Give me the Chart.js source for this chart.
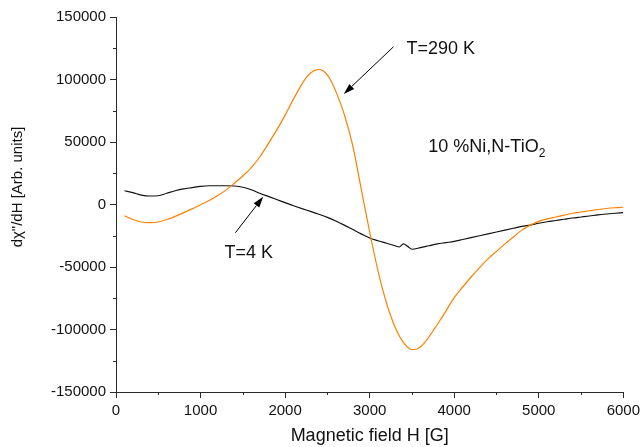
<!DOCTYPE html>
<html>
<head>
<meta charset="utf-8">
<script src="https://cdn.jsdelivr.net/npm/chart.js@4/dist/chart.umd.min.js"></script>
<style>
  html, body { margin: 0; padding: 0; background: #fff; }
  #wrap { width: 644px; height: 447px; }
</style>
</head>
<body>
<div id="wrap"><canvas id="c" width="644" height="447"></canvas></div>
<script>
// Magnetic field [G] and EPR derivative signal for 10 %Ni,N-TiO2
const fieldH290K = [100,200,300,400,500,600,700,800,900,1000,1100,1200,1300,1400,1500,1600,1700,1800,1900,2000,
  2100,2200,2250,2300,2350,2400,2450,2500,2550,2600,2700,2800,2900,3000,3100,3200,3300,3400,3500,3550,3600,3650,3700,3750,3800,3900,4000,
  4100,4200,4300,4400,4500,4600,4700,4800,4900,5000,5100,5200,5300,5400,5500,5600,5700,5800,5900,6000];
const signal290K = [-9000,-12000,-14000,-14500,-14000,-12000,-9500,-6500,-3500,-200,3200,7000,11500,17000,22800,29500,38000,48500,59500,71500,
  84500,96500,101500,105000,107300,108000,107000,103500,98000,90500,72000,47000,12500,-22000,-53500,-79000,-98000,-110500,-116000,-115800,-114000,-110500,-106000,-101000,-96000,-85500,-74500,
  -66000,-58000,-50500,-43500,-37500,-31500,-26000,-20500,-16500,-13500,-11500,-10000,-8500,-7000,-6000,-5000,-4000,-3200,-2600,-2200];

const fieldH4K = [100,200,300,400,500,600,700,800,900,1000,1100,1200,1300,1400,1500,1600,1700,1800,1900,2000,
  2100,2200,2300,2400,2500,2600,2700,2800,2900,3000,3100,3200,3300,3350,3400,3450,3500,3600,3700,3800,3900,4000,
  4100,4200,4300,4400,4500,4600,4700,4800,4900,5000,5100,5200,5300,5400,5500,5600,5700,5800,5900,6000];
const signal4K = [11000,9500,7500,6800,7000,9000,11000,12500,13500,14500,15000,15000,15000,14800,13800,11800,9000,6500,4000,1500,
  -1000,-3300,-5500,-7800,-10300,-13200,-16500,-20000,-23500,-26800,-29000,-31000,-33000,-34000,-31500,-33500,-35800,-34500,-33000,-31500,-30500,-29500,
  -28000,-26500,-25000,-23500,-22000,-20500,-19000,-17500,-16400,-15000,-13800,-12800,-11800,-10800,-10000,-9200,-8300,-7600,-7000,-6500];

const xTicks = [0,1000,2000,3000,4000,5000,6000];
const yTicks = [-150000,-100000,-50000,0,50000,100000,150000];

// Text notes and arrows, placed in data coordinates
const notes = [
  { text: 'T=290 K', h: 3435, v: 124200 },
  { text: 'T=4 K', h: 1282, v: -38800 },
  { text: '10 %Ni,N-TiO', sub: '2', h: 3694, v: 45600 }
];
const arrows = [
  { from: [3282, 126200], to: [2694, 88400] },
  { from: [1412, -22600], to: [1741, 6200] }
];
const yTitle = 'd\u03C7"/dH [Arb. units]';
const yTitleCentre = 14000;

const toPoints = (xs, ys) => xs.map((x, i) => ({ x: x, y: ys[i] }));

const FONT = '"Liberation Sans", Arial, sans-serif';
const AXIS = '#2a2a2a';

const decorations = {
  id: 'decorations',
  afterDraw(chart) {
    const ctx = chart.ctx;
    const xs = chart.scales.x, ys = chart.scales.y;
    ctx.save();
    // minor ticks half-way between labelled ticks
    ctx.strokeStyle = AXIS;
    ctx.lineWidth = 1;
    ctx.beginPath();
    for (let i = 0; i < xTicks.length - 1; i++) {
      const px = Math.round(xs.getPixelForValue((xTicks[i] + xTicks[i + 1]) / 2)) + 0.5;
      ctx.moveTo(px, ys.bottom);
      ctx.lineTo(px, ys.bottom + 3);
    }
    for (let i = 0; i < yTicks.length - 1; i++) {
      const py = Math.round(ys.getPixelForValue((yTicks[i] + yTicks[i + 1]) / 2)) + 0.5;
      ctx.moveTo(xs.left, py);
      ctx.lineTo(xs.left - 3, py);
    }
    ctx.stroke();

    // arrows
    ctx.strokeStyle = '#000';
    ctx.fillStyle = '#000';
    arrows.forEach(a => {
      const x1 = xs.getPixelForValue(a.from[0]), y1 = ys.getPixelForValue(a.from[1]);
      const x2 = xs.getPixelForValue(a.to[0]), y2 = ys.getPixelForValue(a.to[1]);
      const ang = Math.atan2(y2 - y1, x2 - x1);
      const len = 11, half = 3.5;
      const bx = x2 - len * Math.cos(ang), by = y2 - len * Math.sin(ang);
      ctx.beginPath();
      ctx.moveTo(x1, y1);
      ctx.lineTo(bx, by);
      ctx.stroke();
      ctx.beginPath();
      ctx.moveTo(x2, y2);
      ctx.lineTo(bx + half * Math.sin(ang), by - half * Math.cos(ang));
      ctx.lineTo(bx - half * Math.sin(ang), by + half * Math.cos(ang));
      ctx.closePath();
      ctx.fill();
    });

    // text notes
    ctx.fillStyle = '#111';
    ctx.textAlign = 'left';
    ctx.textBaseline = 'middle';
    notes.forEach(n => {
      const px = xs.getPixelForValue(n.h), py = ys.getPixelForValue(n.v);
      ctx.font = '18px ' + FONT;
      ctx.fillText(n.text, px, py);
      if (n.sub) {
        const w = ctx.measureText(n.text).width;
        ctx.font = '12px ' + FONT;
        ctx.fillText(n.sub, px + w, py + 6);
      }
    });

    // vertical axis title
    ctx.save();
    ctx.translate(18, ys.getPixelForValue(yTitleCentre));
    ctx.rotate(-Math.PI / 2);
    ctx.textAlign = 'center';
    ctx.textBaseline = 'middle';
    ctx.font = '15px ' + FONT;
    ctx.fillText(yTitle, 0, 0);
    ctx.restore();

    ctx.restore();
  }
};

new Chart(document.getElementById('c'), {
  type: 'line',
  data: {
    datasets: [
      {
        label: 'T=290 K',
        data: toPoints(fieldH290K, signal290K),
        borderColor: '#ff8000',
        borderWidth: 1.2,
        pointRadius: 0,
        cubicInterpolationMode: 'monotone',
        fill: false
      },
      {
        label: 'T=4 K',
        data: toPoints(fieldH4K, signal4K),
        borderColor: '#111',
        borderWidth: 1.2,
        pointRadius: 0,
        cubicInterpolationMode: 'monotone',
        fill: false
      }
    ]
  },
  options: {
    responsive: false,
    animation: false,
    devicePixelRatio: 1,
    layout: { padding: { left: 0, right: 18, top: 17, bottom: 0 } },
    plugins: {
      legend: { display: false },
      tooltip: { enabled: false }
    },
    scales: {
      x: {
        type: 'linear',
        min: 0, max: 6000,
        afterBuildTicks: s => { s.ticks = xTicks.map(v => ({ value: v })); },
        afterFit: s => { s.height = 55; },
        grid: { drawOnChartArea: false, drawTicks: true, tickLength: 6, tickColor: AXIS },
        border: { display: true, color: AXIS, width: 1 },
        ticks: { color: '#111', font: { family: FONT, size: 15 }, padding: 4, maxRotation: 0, callback: v => String(v) },
        title: { display: true, text: 'Magnetic field H [G]', color: '#111', font: { family: FONT, size: 18 }, padding: { top: 0, bottom: 0 } }
      },
      y: {
        type: 'linear',
        min: -150000, max: 150000,
        afterBuildTicks: s => { s.ticks = yTicks.map(v => ({ value: v })); },
        afterFit: s => { s.width = 116; },
        grid: { drawOnChartArea: false, drawTicks: true, tickLength: 6, tickColor: AXIS },
        border: { display: true, color: AXIS, width: 1 },
        ticks: { color: '#111', font: { family: FONT, size: 15 }, padding: 4, callback: v => String(v) },
        title: { display: false }
      }
    }
  },
  plugins: [decorations]
});
</script>
</body>
</html>
